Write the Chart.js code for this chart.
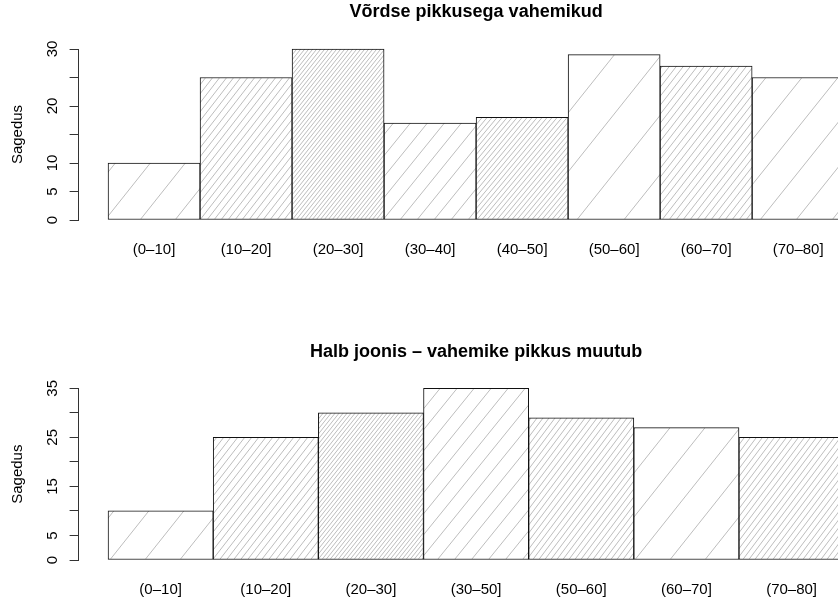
<!DOCTYPE html>
<html>
<head>
<meta charset="utf-8">
<script src="https://cdn.jsdelivr.net/npm/chart.js@4.4.1/dist/chart.umd.min.js"></script>
<style>
  html, body { margin: 0; padding: 0; background: #fff; overflow: hidden; }
  .page { width: 838px; height: 604px; overflow: hidden; position: relative; }
  .panel { position: absolute; left: 0; width: 880px; height: 302px; }
</style>
</head>
<body>
<div class="page">
  <div class="panel" style="top:0"><canvas id="topChart" width="880" height="302"></canvas></div>
  <div class="panel" style="top:302px"><canvas id="bottomChart" width="880" height="302"></canvas></div>
</div>
<script>
// data
const topLabels = ['(0–10]', '(10–20]', '(20–30]', '(30–40]', '(40–50]', '(50–60]', '(60–70]', '(70–80]'];
const topCounts = [10, 25, 30, 17, 18, 29, 27, 25];
const topShownTicks = [0, 5, 10, 20, 30];

const bottomLabels = ['(0–10]', '(10–20]', '(20–30]', '(30–50]', '(50–60]', '(60–70]', '(70–80]'];
const bottomCounts = [10, 25, 30, 35, 29, 27, 25];
const bottomShownTicks = [0, 5, 15, 25, 35];

// hatch line spacing per bar (style only)
const topHatch = [35, 7, 4, 17, 5, 47, 7, 36];
const bottomHatch = [35, 7, 4, 17, 6, 35, 6];

Chart.defaults.font.family = '"Liberation Sans", Arial, Helvetica, sans-serif';
Chart.defaults.color = '#000';

// diagonal hatch tile, lines going up to the right
function hatchPattern(ctx, s) {
    const h = Math.round(s * 1.25);
    const tile = document.createElement('canvas');
    tile.width = s; tile.height = h;
    const g = tile.getContext('2d');
    g.fillStyle = '#fff';
    g.fillRect(0, 0, s, h);
    g.strokeStyle = '#bdbdbd';
    g.lineWidth = 1;
    g.beginPath();
    for (let k = -1; k <= 1; k++) {
        g.moveTo(k * s, h);
        g.lineTo(k * s + s, 0);
    }
    g.stroke();
    return ctx.createPattern(tile, 'repeat');
}

function drawHist(id, labels, counts, hatch, yMax, shown, title, titlePad, xHeight) {
    const n = labels.length;
    const ctx = document.getElementById(id).getContext('2d');
    return new Chart(ctx, {
        type: 'bar',
        data: {
            datasets: [{
                data: counts.map((v, i) => ({ x: i + 0.5, y: v })),
                backgroundColor: hatch.map(s => hatchPattern(ctx, s)),
                borderColor: '#111',
                borderWidth: 1,
                borderSkipped: false,
                barPercentage: 1,
                categoryPercentage: 1,
                clip: false
            }]
        },
        options: {
            responsive: false,
            animation: false,
            layout: { padding: { left: 0, right: 6.4, top: 0, bottom: 0 } },
            plugins: {
                legend: { display: false },
                tooltip: { enabled: false },
                title: {
                    display: true, text: title, fullSize: false, color: '#000',
                    font: { size: 18, weight: 'bold' },
                    padding: titlePad
                }
            },
            scales: {
                x: {
                    type: 'linear',
                    offset: false,
                    min: -0.04 * n,
                    max: n + 0.04 * n,
                    grid: { display: false, drawTicks: false, offset: false },
                    border: { display: false },
                    afterBuildTicks: s => { s.ticks = labels.map((l, i) => ({ value: i + 0.5 })); },
                    ticks: {
                        autoSkip: false, maxRotation: 0, padding: 21, color: '#000',
                        font: { size: 15 },
                        callback: (v, i) => labels[i]
                    },
                    afterFit: s => { s.height = xHeight; }
                },
                y: {
                    min: 0,
                    max: yMax,
                    ticks: {
                        stepSize: 5, minRotation: 90, maxRotation: 90, crossAlign: 'center',
                        padding: 8.5, color: '#000', font: { size: 15 },
                        callback: v => shown.includes(v) ? String(v) : ''
                    },
                    grid: { drawOnChartArea: false, drawTicks: true, tickLength: 9, color: '#333' },
                    border: { color: '#333' },
                    title: {
                        display: true, text: 'Sagedus', color: '#000',
                        font: { size: 15 }, padding: { top: 8.5, bottom: 0 }
                    },
                    afterFit: s => { s.width = 78.6; }
                }
            }
        }
    });
}

drawHist('topChart', topLabels, topCounts, topHatch, 30, topShownTicks,
    'Võrdse pikkusega vahemikud', { top: 1.2, bottom: 26.2 }, 82);
drawHist('bottomChart', bottomLabels, bottomCounts, bottomHatch, 35, bottomShownTicks,
    'Halb joonis – vahemike pikkus muutub', { top: 39.7, bottom: 25 }, 44);
</script>
</body>
</html>
